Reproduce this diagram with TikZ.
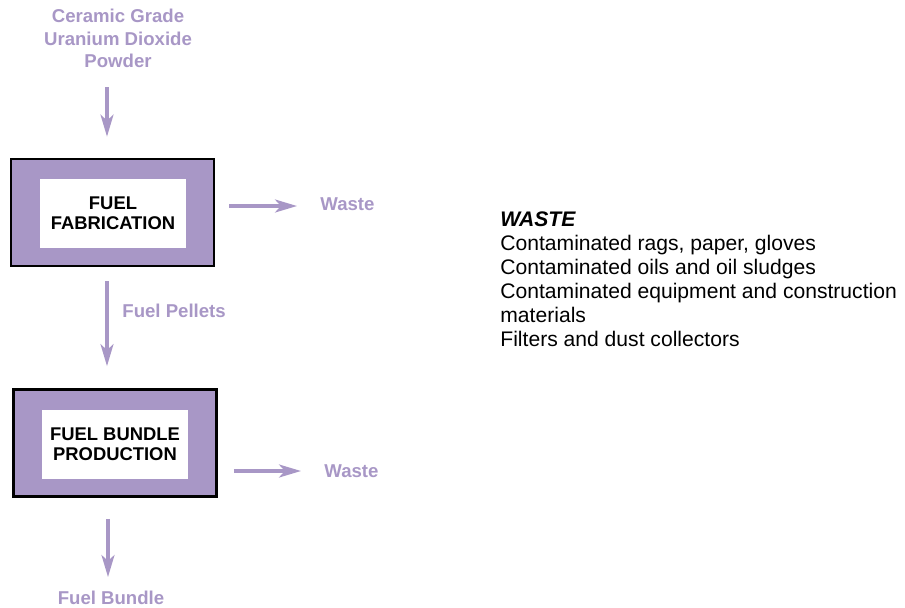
\documentclass[tikz,border=0pt]{standalone}
\usepackage{fontspec}
\setmainfont{Liberation Sans}
\usetikzlibrary{arrows.meta}
\definecolor{lavender}{RGB}{168,151,198}

\tikzset{
	flowarrow/.style={line width=1.6pt, lavender, -{Stealth[length=11pt, width=6.5pt, inset=3pt]}},
	flowlabel/.style={text=lavender, inner sep=0pt, align=center, font=\fontsize{9.3}{11.2}\selectfont\bfseries},
	stagebox/.style={draw=black, line width=1.4pt, fill=lavender, inner sep=0pt, minimum width=101.5pt, minimum height=53.5pt},
	stagetext/.style={fill=white, inner sep=0pt, align=center, minimum width=73pt, minimum height=34.5pt, font=\fontsize{9.2}{10}\selectfont\bfseries},
}

\begin{document}
\begin{tikzpicture}[x=0.5pt, y=-0.5pt]
	\useasboundingbox (0,0) rectangle (905,607);
	% stages
	\node[stagebox] (fab) at (112.5,212.5) {};
	\node[stagetext] (fabtext) at (113,213.5) {FUEL\\FABRICATION};
	\node[stagebox] (bundle) at (115,443) {};
	\node[stagetext] (bundletext) at (115,444.5) {FUEL BUNDLE\\PRODUCTION};
	% labels
	\node[flowlabel, anchor=south] (powder) at (118,68) {Ceramic Grade\\Uranium Dioxide\\Powder};
	\node[flowlabel, anchor=west] (pellets) at (122,311) {Fuel Pellets};
	\node[flowlabel, anchor=north] (product) at (111,591) {Fuel Bundle};
	\node[flowlabel, anchor=west] (waste1) at (320,204) {Waste};
	\node[flowlabel, anchor=west] (waste2) at (324,471) {Waste};
	\node[anchor=north west, inner sep=0pt, align=left, font=\fontsize{10.55}{12}\selectfont] (wastelist) at (500,211)
		{\textbf{\textit{WASTE}}\\Contaminated rags, paper, gloves\\Contaminated oils and oil sludges\\Contaminated equipment and construction\\materials\\Filters and dust collectors};
	% flows
	\draw[flowarrow, shorten <=9.5pt, shorten >=10.5pt] ([xshift=-5.5pt]powder.south) -- ([xshift=-2.75pt]fab.north);
	\draw[flowarrow, shorten <=7pt, shorten >=11pt] ([xshift=-2.75pt]fab.south) -- ([xshift=-4pt]bundle.north);
	\draw[flowarrow, shorten <=10.5pt, shorten >=7pt] ([xshift=-3.5pt]bundle.south) -- ([xshift=-1.5pt]product.north);
	\draw[flowarrow, shorten <=7pt, shorten >=11.5pt] ([yshift=-1pt]fab.east |- waste1.west) -- ([yshift=-1pt]waste1.west);
	\draw[flowarrow, shorten <=8pt, shorten >=11.5pt] (bundle.east |- waste2.west) -- (waste2.west);
\end{tikzpicture}
\end{document}
